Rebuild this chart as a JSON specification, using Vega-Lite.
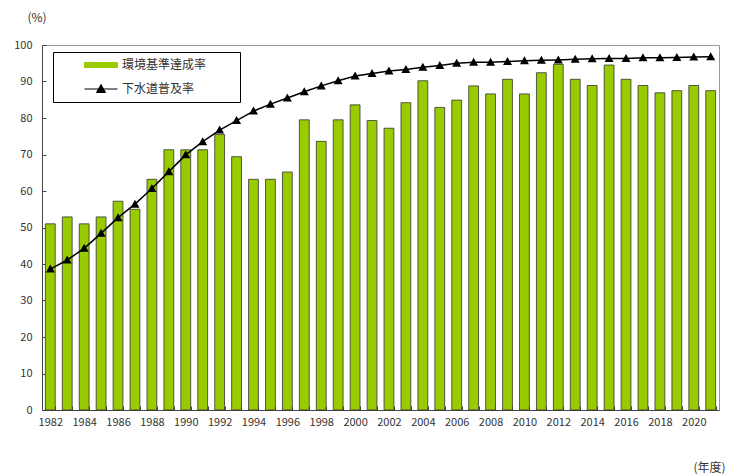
{
  "$schema": "https://vega.github.io/schema/vega-lite/v6.json",
  "autosize": "none",
  "width": 677,
  "height": 365,
  "padding": {"left": 42, "top": 45, "right": 29, "bottom": 64},
  "background": "white",
  "config": {
    "font": "Noto Sans CJK JP",
    "view": {"stroke": "#999", "strokeWidth": 1},
    "axis": {"grid": false, "labelFont": "Noto Sans CJK JP", "labelColor": "#333", "labelFontSize": 11, "domainColor": "#444", "tickColor": "#445", "titleFont": "Noto Sans CJK JP", "titleFontWeight": "normal", "titleColor": "#333", "titleFontSize": 12},
    "legend": {
      "orient": "none", "legendX": 11, "legendY": 7,
      "strokeColor": "#000", "fillColor": "white", "padding": 7,
      "symbolSize": 100, "symbolOffset": 35, "labelOffset": 15,
      "symbolStrokeWidth": 1, "symbolOpacity": 1,
      "labelFont": "Noto Sans CJK JP", "labelFontSize": 12, "labelColor": "#333",
      "rowPadding": 11
    }
  },
  "data": {"values": [
    {"year": 1982, "rate": 51.0, "sewer": 38.6},
    {"year": 1983, "rate": 52.9, "sewer": 41.1},
    {"year": 1984, "rate": 51.0, "sewer": 44.3},
    {"year": 1985, "rate": 52.9, "sewer": 48.4},
    {"year": 1986, "rate": 57.2, "sewer": 52.7},
    {"year": 1987, "rate": 55.0, "sewer": 56.4},
    {"year": 1988, "rate": 63.2, "sewer": 60.7},
    {"year": 1989, "rate": 71.3, "sewer": 65.3},
    {"year": 1990, "rate": 71.3, "sewer": 69.9},
    {"year": 1991, "rate": 71.3, "sewer": 73.5},
    {"year": 1992, "rate": 75.5, "sewer": 76.7},
    {"year": 1993, "rate": 69.4, "sewer": 79.3},
    {"year": 1994, "rate": 63.2, "sewer": 81.9},
    {"year": 1995, "rate": 63.2, "sewer": 83.8},
    {"year": 1996, "rate": 65.2, "sewer": 85.5},
    {"year": 1997, "rate": 79.5, "sewer": 87.2},
    {"year": 1998, "rate": 73.6, "sewer": 88.8},
    {"year": 1999, "rate": 79.5, "sewer": 90.2},
    {"year": 2000, "rate": 83.6, "sewer": 91.5},
    {"year": 2001, "rate": 79.3, "sewer": 92.2},
    {"year": 2002, "rate": 77.2, "sewer": 92.9},
    {"year": 2003, "rate": 84.2, "sewer": 93.3},
    {"year": 2004, "rate": 90.2, "sewer": 93.9},
    {"year": 2005, "rate": 82.9, "sewer": 94.4},
    {"year": 2006, "rate": 84.9, "sewer": 95.0},
    {"year": 2007, "rate": 88.8, "sewer": 95.3},
    {"year": 2008, "rate": 86.6, "sewer": 95.3},
    {"year": 2009, "rate": 90.6, "sewer": 95.5},
    {"year": 2010, "rate": 86.6, "sewer": 95.7},
    {"year": 2011, "rate": 92.4, "sewer": 95.8},
    {"year": 2012, "rate": 94.7, "sewer": 95.9},
    {"year": 2013, "rate": 90.6, "sewer": 96.1},
    {"year": 2014, "rate": 88.9, "sewer": 96.2},
    {"year": 2015, "rate": 94.5, "sewer": 96.3},
    {"year": 2016, "rate": 90.6, "sewer": 96.3},
    {"year": 2017, "rate": 88.9, "sewer": 96.5},
    {"year": 2018, "rate": 86.9, "sewer": 96.5},
    {"year": 2019, "rate": 87.5, "sewer": 96.6},
    {"year": 2020, "rate": 88.9, "sewer": 96.7},
    {"year": 2021, "rate": 87.5, "sewer": 96.8}
  ]},
  "encoding": {
    "x": {
      "field": "year", "type": "ordinal",
      "scale": {"paddingInner": 0.42, "paddingOuter": 0.2},
      "axis": {
        "title": "(年度)", "titleAnchor": "start", "titleAlign": "left", "titleX": 651, "titleY": 57, "titleBaseline": "middle",
        "labelAngle": 0, "labelExpr": "datum.value % 2 === 0 ? datum.label : ''",
        "tickBand": "extent", "tickSize": -4, "labelPadding": 10, "labelOverlap": false
      }
    }
  },
  "layer": [
    {
      "mark": {"type": "bar", "stroke": "#333", "strokeWidth": 0.8},
      "encoding": {
        "y": {
          "field": "rate", "type": "quantitative",
          "scale": {"domain": [0, 100], "nice": false},
          "axis": {
            "values": [0, 10, 20, 30, 40, 50, 60, 70, 80, 90, 100], "labelOverlap": false,
            "title": "(%)", "titleAngle": 0, "titleAlign": "left", "titleBaseline": "middle", "titleX": -15, "titleY": -28,
            "tickSize": -4, "labelPadding": 14
          }
        },
        "color": {
          "datum": "環境基準達成率",
          "scale": {"domain": ["環境基準達成率", "下水道普及率"], "range": ["#99cc00", "#000000"]},
          "legend": {"title": null, "labelExpr": "datum.label + '　　 \u200b'"}
        }
      }
    },
    {
      "mark": {"type": "line", "strokeWidth": 1.5},
      "encoding": {
        "y": {
          "field": "sewer", "type": "quantitative",
          "axis": {
            "values": [0, 10, 20, 30, 40, 50, 60, 70, 80, 90, 100], "labelOverlap": false,
            "title": "(%)", "titleAngle": 0, "titleAlign": "left", "titleBaseline": "middle", "titleX": -15, "titleY": -28,
            "tickSize": -4, "labelPadding": 14
          }
        },
        "color": {"datum": "下水道普及率", "legend": {"title": null, "labelExpr": "datum.label + '　　 \u200b'"}}
      }
    },
    {
      "mark": {"type": "point", "filled": true, "size": 100, "strokeWidth": 0, "opacity": 1},
      "encoding": {
        "y": {
          "field": "sewer", "type": "quantitative",
          "axis": {
            "values": [0, 10, 20, 30, 40, 50, 60, 70, 80, 90, 100], "labelOverlap": false,
            "title": "(%)", "titleAngle": 0, "titleAlign": "left", "titleBaseline": "middle", "titleX": -15, "titleY": -28,
            "tickSize": -4, "labelPadding": 14
          }
        },
        "color": {"datum": "下水道普及率", "legend": {"title": null, "labelExpr": "datum.label + '　　 \u200b'"}},
        "shape": {
          "datum": "下水道普及率",
          "scale": {"domain": ["環境基準達成率", "下水道普及率"], "range": ["M-3.3,-0.5H3.3V0.5H-3.3Z", "M-3.3,0H3.3M0,-0.9L0.9,0.7L-0.9,0.7Z"]},
          "legend": {"title": null, "labelExpr": "datum.label + '　　 \u200b'"}
        }
      }
    }
  ]
}
